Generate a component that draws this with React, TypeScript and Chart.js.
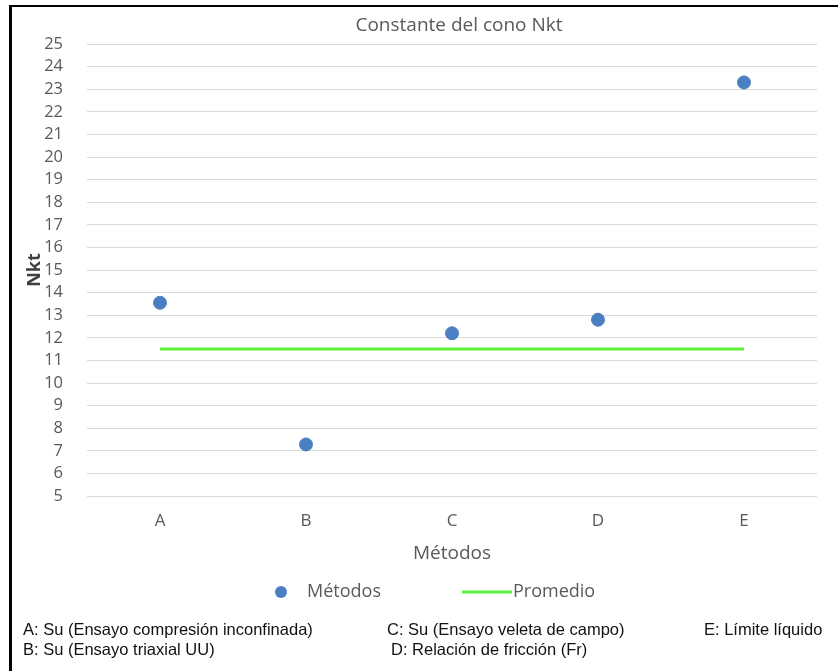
import React, { useEffect, useRef } from "react";
import { Chart, registerables } from "chart.js";

Chart.register(...registerables);

const categories = ["A", "B", "C", "D", "E"];
const metodosValues = [13.55, 7.28, 12.2, 12.8, 23.3];
const promedioValues = [11.5, 11.5, 11.5, 11.5, 11.5];
const yMin = 5;
const yMax = 25;
const yStep = 1;
const chartTitle = "Constante del cono Nkt";
const xTitle = "Métodos";
const yTitle = "Nkt";
const seriesNames = ["Métodos", "Promedio"];
const captionLeft = ["A: Su (Ensayo compresión inconfinada)", "B: Su (Ensayo triaxial UU)"];
const captionMid = ["C: Su (Ensayo veleta de campo)", "D: Relación de fricción (Fr)"];
const captionRight = ["E: Límite líquido"];

const BLUE = "#4a7fc1";
const GREEN = "#5ff23a";
const TEXT = "#595959";
const FONT = "'Open Sans', 'Noto Sans', sans-serif";

const overlayPlugin = {
  id: "overlay",
  afterDraw(chart: any) {
    const { ctx, chartArea } = chart;
    ctx.save();
    // title
    ctx.fillStyle = TEXT;
    ctx.font = `19px ${FONT}`;
    ctx.textAlign = "center";
    ctx.textBaseline = "middle";
    ctx.fillText(chartTitle, (chartArea.left + chartArea.right) / 2 + 7, chartArea.top - 18);
    // legend
    const ly = chartArea.bottom + 96;
    const lx = 281;
    ctx.fillStyle = BLUE;
    ctx.beginPath();
    ctx.arc(lx, ly, 6, 0, Math.PI * 2);
    ctx.fill();
    ctx.fillStyle = TEXT;
    ctx.textAlign = "left";
    ctx.font = `18px ${FONT}`;
    ctx.fillText(seriesNames[0], lx + 26, ly);
    ctx.strokeStyle = GREEN;
    ctx.lineWidth = 3;
    ctx.beginPath();
    ctx.moveTo(lx + 181, ly);
    ctx.lineTo(lx + 231, ly);
    ctx.stroke();
    ctx.fillText(seriesNames[1], lx + 232, ly);
    ctx.restore();
  },
};

export default function App() {
  const ref = useRef<HTMLCanvasElement | null>(null);
  useEffect(() => {
    if (!ref.current) return;
    const chart = new Chart(ref.current, {
      type: "line",
      data: {
        labels: categories,
        datasets: [
          {
            label: seriesNames[0],
            data: metodosValues,
            showLine: false,
            pointRadius: 6.5,
            pointHoverRadius: 6.5,
            pointBackgroundColor: BLUE,
            pointBorderColor: BLUE,
            borderColor: BLUE,
            backgroundColor: BLUE,
          },
          {
            label: seriesNames[1],
            data: promedioValues,
            borderColor: GREEN,
            backgroundColor: GREEN,
            borderWidth: 3,
            pointRadius: 0,
          },
        ],
      },
      options: {
        animation: false,
        responsive: false,
        maintainAspectRatio: false,
        layout: { padding: { left: 0, right: 21, top: 44, bottom: 75 } },
        plugins: {
          legend: { display: false },
          title: { display: false },
          tooltip: { enabled: false },
        },
        scales: {
          x: {
            type: "category",
            offset: true,
            grid: { display: false, drawTicks: false },
            border: { display: false },
            ticks: { color: TEXT, font: { family: FONT, size: 17 }, padding: 15 },
            title: {
              display: true,
              text: xTitle,
              color: TEXT,
              font: { family: FONT, size: 19 },
              padding: { top: 0, bottom: 31 },
            },
            afterFit(scale: any) {
              scale.height = 100;
            },
          },
          y: {
            min: yMin,
            max: yMax,
            ticks: {
              stepSize: yStep,
              autoSkip: false,
              color: TEXT,
              font: { family: FONT, size: 16.5, lineHeight: 1 },
              padding: 24,
            },
            grid: { color: "#d9d9d9", lineWidth: 1, drawTicks: false },
            border: { display: false },
            title: {
              display: true,
              text: yTitle,
              color: "#404040",
              font: { family: FONT, size: 18, weight: "bold" },
              padding: { top: 24, bottom: 0 },
            },
            afterFit(scale: any) {
              scale.width = 87;
            },
          },
        },
      },
      plugins: [overlayPlugin],
    } as any);
    return () => chart.destroy();
  }, []);

  const capStyle: React.CSSProperties = {
    position: "absolute",
    fontFamily: "'Liberation Sans', Arial, sans-serif",
    fontSize: 16.5,
    color: "#111",
    whiteSpace: "nowrap",
    lineHeight: "20px",
  };

  return (
    <div
      style={{
        position: "fixed",
        left: 0,
        top: 0,
        width: 838,
        height: 671,
        background: "#fff",
        overflow: "hidden",
      }}
    >
      <canvas ref={ref} width={838} height={671} style={{ position: "absolute", left: 0, top: 0 }} />
      <div style={{ position: "absolute", left: 9, top: 5, width: 829, height: 2, background: "#000" }} />
      <div style={{ position: "absolute", left: 9, top: 5, width: 3, height: 666, background: "#000" }} />
      <div style={{ ...capStyle, left: 23, top: 619 }}>
        {captionLeft.map((t) => (
          <div key={t}>{t}</div>
        ))}
      </div>
      <div style={{ ...capStyle, left: 387, top: 619 }}>
        <div>{captionMid[0]}</div>
        <div style={{ marginLeft: 4 }}>{captionMid[1]}</div>
      </div>
      <div style={{ ...capStyle, left: 704, top: 619 }}>
        {captionRight.map((t) => (
          <div key={t}>{t}</div>
        ))}
      </div>
    </div>
  );
}
